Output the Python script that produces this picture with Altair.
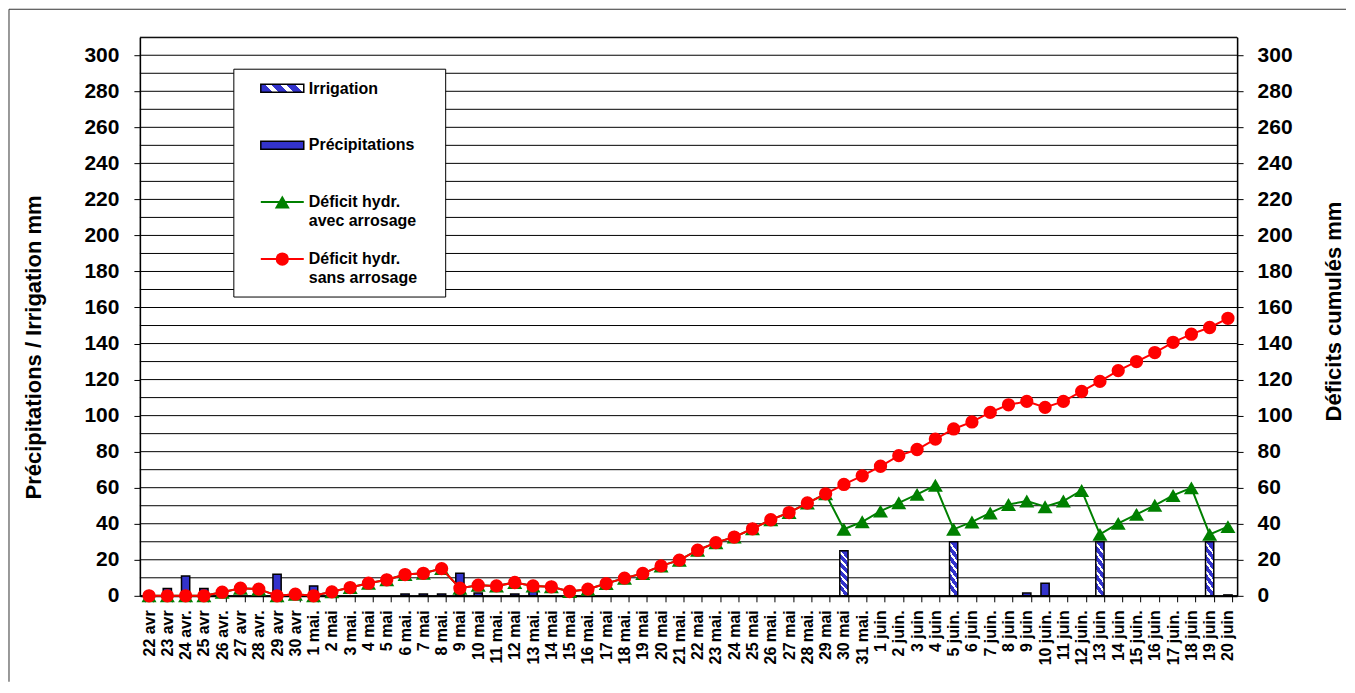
import altair as alt
import pandas as pd

cats = ["22 avr", "23 avr", "24 avr.", "25 avr", "26 avr.", "27 avr", "28 avr.", "29 avr", "30 avr",
        "1 mai.", "2 mai", "3 mai.", "4 mai", "5 mai", "6 mai.", "7 mai", "8 mai.", "9 mai", "10 mai",
        "11 mai.", "12 mai", "13 mai.", "14 mai", "15 mai", "16 mai.", "17 mai", "18 mai.", "19 mai",
        "20 mai", "21 mai.", "22 mai", "23 mai.", "24 mai", "25 mai", "26 mai.", "27 mai", "28 mai.",
        "29 mai", "30 mai", "31 mai.", "1 juin", "2 juin.", "3 juin", "4 juin", "5 juin.", "6 juin",
        "7 juin.", "8 juin", "9 juin", "10 juin.", "11 juin", "12 juin.", "13 juin", "14 juin",
        "15 juin.", "16 juin", "17 juin.", "18 juin", "19 juin", "20 juin"]

precip = [0, 4, 11, 4, 0, 0, 0, 12, 0,
          5.5, 0, 0, 0, 0, 1, 1, 1, 12.5, 1.5,
          0, 1, 2.5, 0, 0, 0, 0, 0, 0,
          0, 0, 0, 0, 0, 0, 0, 0, 0,
          0, 0, 0, 0, 0, 0, 0, 0, 0,
          0, 0, 1.5, 7, 0, 0, 0, 0,
          0, 0, 0, 0, 0, 0.5]

irrig = [0] * 38 + [25] + [0] * 5 + [30] + [0] * 7 + [30] + [0] * 5 + [30] + [0]

deficit_sans = [0, 0, 0, 0, 2, 4.2, 3.7, 0, 0.9,
                0, 2.2, 4.6, 7, 8.9, 11.8, 12.5, 15.1, 4.2, 5.9,
                5.5, 7.4, 5.5, 5, 2.4, 3.7, 6.8, 9.8, 12.4,
                16.6, 19.8, 25.3, 29.5, 32.6, 37.2, 42.2, 46.2, 51.5,
                56.6, 61.8, 66.6, 71.9, 77.8, 81.2, 87, 92.6, 96.5,
                101.8, 106, 107.9, 104.6, 107.9, 113.4, 119, 125,
                130, 135, 140.7, 145.2, 148.9, 154]

deficit_avec = deficit_sans[:38] + [37, 41.1, 47, 51.6, 56.3, 61.3, 36.9, 41,
                                    46, 50.7, 52.6, 49.4, 52.6, 58.5, 34.1, 40.2,
                                    45.2, 50.2, 55.7, 59.9, 34.1, 38.4]

y_ticks = list(range(0, 301, 20))
grid_vals = list(range(0, 311, 10))

df = pd.DataFrame({"jour": cats, "precip": precip, "irrig": irrig,
                   "sans": deficit_sans, "avec": deficit_avec})
grid_df = pd.DataFrame({"g": grid_vals})
one = pd.DataFrame({"a": [0]})

FONT = "Liberation Sans"
W, H = 1098, 559
BLUE = "#3333CC"
GREEN = "#008000"
RED = "#FF0000"

xscale = alt.Scale(type="band", paddingInner=0.55, paddingOuter=0.275)
yscale = alt.Scale(domain=[0, 310], nice=False, zero=True)

xaxis = alt.Axis(title=None, labelAngle=-90, tickBand="extent", tickSize=6, labelPadding=8,
                 labelFont=FONT, labelFontSize=16, labelFontWeight="bold", labelColor="black",
                 domainColor="black", domainWidth=2, tickColor="black", labelOverlap=False,
                 grid=False, labelBound=False)
X = alt.X("jour:N", sort=cats, scale=xscale, axis=xaxis)


def hatch(n, x1, y1, x2, y2, frac=0.65):
    stops = []
    for k in range(n):
        a = k / n
        m = (k + frac) / n
        b = (k + 1) / n
        stops += [{"offset": a, "color": BLUE}, {"offset": m, "color": BLUE},
                  {"offset": m, "color": "white"}, {"offset": b, "color": "white"}]
    return {"gradient": "linear", "x1": x1, "y1": y1, "x2": x2, "y2": y2, "stops": stops}


left_axis = alt.Axis(orient="left", values=y_ticks, title="Précipitations / Irrigation mm",
                     grid=False, tickSize=6, labelPadding=15, labelFont=FONT, labelFontSize=21,
                     labelFontWeight="bold", labelColor="black", tickColor="black",
                     domainColor="black", domainWidth=1.5, titleFont=FONT, titleFontSize=22,
                     titleFontWeight="bold", titleColor="black", titleAngle=-90,
                     titleAlign="center", titleBaseline="middle", titleX=-106, titleY=310)
right_axis = alt.Axis(orient="right", values=y_ticks, title="Déficits cumulés mm",
                      grid=False, tickSize=6, labelPadding=14, labelFont=FONT, labelFontSize=21,
                      labelFontWeight="bold", labelColor="black", tickColor="black",
                      domainColor="black", domainWidth=1.5, titleFont=FONT, titleFontSize=22,
                      titleFontWeight="bold", titleColor="black", titleAngle=-90,
                      titleAlign="center", titleBaseline="middle", titleX=96, titleY=274)

grid = alt.Chart(grid_df).mark_rule(color="black", strokeWidth=1).encode(
    y=alt.Y("g:Q", scale=yscale, axis=left_axis),
    x=alt.value(0), x2=alt.value(W))

bars_p = alt.Chart(df).transform_filter("datum.precip > 0").mark_bar(
    fill=BLUE, stroke="black", strokeWidth=1.5).encode(
    x=X, y=alt.Y("precip:Q", scale=yscale, axis=left_axis))

bars_i = alt.Chart(df).transform_filter("datum.irrig > 0").mark_bar(
    fill=hatch(6, 0.6, 0, 0.4, 1), stroke="black", strokeWidth=1.5).encode(
    x=X, y=alt.Y("irrig:Q", scale=yscale, axis=left_axis))

left = alt.layer(grid, bars_p, bars_i)

ya = alt.Y("avec:Q", scale=yscale, axis=right_axis)
ys = alt.Y("sans:Q", scale=yscale, axis=right_axis)
g_line = alt.Chart(df).mark_line(color=GREEN, strokeWidth=2).encode(x=X, y=ya)
g_pts = alt.Chart(df).mark_point(shape="triangle-up", filled=True, size=225, color=GREEN,
                                 opacity=1).encode(x=X, y=ya)
r_line = alt.Chart(df).mark_line(color=RED, strokeWidth=2).encode(x=X, y=ys)
r_pts = alt.Chart(df).mark_circle(size=177, color=RED, opacity=1).encode(x=X, y=ys)

right = alt.layer(g_line, g_pts, r_line, r_pts)

base1 = alt.Chart(one)
leg_box = base1.mark_rect(fill="white", stroke="black", strokeWidth=1).encode(
    x=alt.value(94), x2=alt.value(306), y=alt.value(32), y2=alt.value(260))
leg_irr = base1.mark_rect(fill=hatch(3, 0, 0.6, 1, 0.4, 0.6), stroke="black", strokeWidth=1.5).encode(
    x=alt.value(121), x2=alt.value(164), y=alt.value(47), y2=alt.value(55))
leg_pre = base1.mark_rect(fill=BLUE, stroke="black", strokeWidth=1.5).encode(
    x=alt.value(121), x2=alt.value(164), y=alt.value(104), y2=alt.value(112))
leg_gl = base1.mark_rule(color=GREEN, strokeWidth=2).encode(
    x=alt.value(121), x2=alt.value(164), y=alt.value(165))
leg_gp = base1.mark_point(shape="triangle-up", filled=True, size=225, color=GREEN, opacity=1).encode(
    x=alt.value(142.5), y=alt.value(165))
leg_rl = base1.mark_rule(color=RED, strokeWidth=2).encode(
    x=alt.value(121), x2=alt.value(164), y=alt.value(222))
leg_rp = base1.mark_circle(size=177, color=RED, opacity=1).encode(
    x=alt.value(142.5), y=alt.value(222))

leg_labels = [("Irrigation", 52), ("Précipitations", 108), ("Déficit hydr.", 165),
              ("avec arrosage", 184), ("Déficit hydr.", 222), ("sans arrosage", 241)]
leg_texts = [base1.mark_text(text=t, align="left", baseline="middle", font=FONT, fontSize=16,
                             fontWeight="bold", color="black").encode(
    x=alt.value(169), y=alt.value(yy)) for t, yy in leg_labels]

border_top = base1.mark_rule(color="#333333", strokeWidth=1).encode(
    x=alt.value(-131), x2=alt.value(1207), y=alt.value(-28))
border_left = base1.mark_rule(color="#333333", strokeWidth=1).encode(
    x=alt.value(-131), y=alt.value(-28), y2=alt.value(645))

chart = alt.layer(left, right, leg_box, leg_irr, leg_pre, leg_gl, leg_gp, leg_rl, leg_rp,
                  *leg_texts, border_top, border_left).resolve_scale(
    y="independent").properties(
    width=W, height=H, padding=0, background="white"
).configure_view(stroke="black", strokeWidth=1)

chart.save("out.html", embed_options={"renderer": "svg", "actions": False})
